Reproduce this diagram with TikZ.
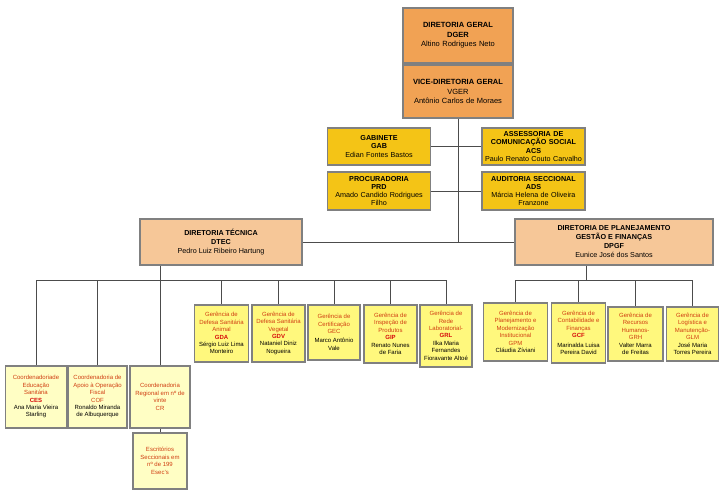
\documentclass[tikz,border=0pt]{standalone}
\usepackage{fontspec}
\setmainfont{Liberation Sans}
\usetikzlibrary{positioning}
\definecolor{dgorange}{RGB}{241,162,84}
\definecolor{staffgold}{RGB}{244,196,22}
\definecolor{dirsalmon}{RGB}{246,199,152}
\definecolor{geryellow}{RGB}{255,248,125}
\definecolor{coordyellow}{RGB}{255,254,196}
\definecolor{boxedge}{RGB}{128,128,128}
\definecolor{gertext}{RGB}{208,62,18}
\definecolor{abbrred}{RGB}{215,10,10}

\begin{document}
\begin{tikzpicture}[x=1pt, y=-1pt,
  unit/.style={draw=boxedge, line width=1.5pt, inner sep=1pt, align=center},
  topbox/.style={unit, fill=dgorange, minimum width=110pt, text width=106pt, font=\fontsize{7.5}{9.5}\selectfont},
  staffbox/.style={unit, fill=staffgold, minimum width=103pt, text width=101pt, font=\fontsize{7.2}{8.1}\selectfont},
  dirbox/.style={unit, fill=dirsalmon, minimum height=46pt, font=\fontsize{7.2}{9}\selectfont},
  gerbox/.style={unit, fill=geryellow, anchor=north, text=gertext, font=\fontsize{6}{7.4}\selectfont},
  coordbox/.style={unit, fill=coordyellow, anchor=north, text=gertext, font=\fontsize{6}{7.4}\selectfont},
  link/.style={draw=black!70, line width=0.8pt}]
\useasboundingbox (0,0) rectangle (720,498);

% direcao geral
\node[topbox, minimum height=55pt] (dger) at (458,35.5) {\textbf{DIRETORIA GERAL}\\\textbf{DGER}\\Altino Rodrigues Neto};
\node[topbox, minimum height=53pt] (vger) at (458,91.5) {\textbf{VICE-DIRETORIA GERAL}\\VGER\\Antônio Carlos de Moraes};

% assessorias
\node[staffbox, minimum height=37pt] (gab) at (379,146.5) {\textbf{GABINETE}\\\textbf{GAB}\\Edian Fontes Bastos};
\node[staffbox, minimum height=37pt] (ascom) at (533.5,146.5) {\textbf{ASSESSORIA DE}\\\textbf{COMUNICAÇÃO SOCIAL}\\\textbf{ACS}\\Paulo Renato Couto Carvalho};
\node[staffbox, minimum height=38pt] (prd) at (379,191) {\textbf{PROCURADORIA}\\\textbf{PRD}\\Amado Candido Rodrigues\\Filho};
\node[staffbox, minimum height=38pt] (ads) at (533.5,191) {\textbf{AUDITORIA SECCIONAL}\\\textbf{ADS}\\Márcia Helena de Oliveira\\Franzone};

% diretorias
\node[dirbox, minimum width=162pt] (dtec) at (221,242) {\textbf{DIRETORIA TÉCNICA}\\\textbf{DTEC}\\Pedro Luiz Ribeiro Hartung};
\node[dirbox, minimum width=198pt] (dpgf) at (614,242) {\textbf{DIRETORIA DE PLANEJAMENTO}\\\textbf{GESTÃO E FINANÇAS}\\\textbf{DPGF}\\Eunice José dos Santos};

% gerencias DTEC
\node[gerbox, minimum width=54pt, minimum height=57pt] (gda) at (221.5,304) {Gerência de\\Defesa Sanitária\\Animal\\\textcolor{abbrred}{\textbf{GDA}}\\\textcolor{black}{Sérgio Luiz Lima}\\\textcolor{black}{Monteiro}};
\node[gerbox, minimum width=53pt, minimum height=57pt] (gdv) at (278.5,304) {Gerência de\\Defesa Sanitária\\Vegetal\\\textcolor{abbrred}{\textbf{GDV}}\\\textcolor{black}{Nataniel Diniz}\\\textcolor{black}{Nogueira}};
\node[gerbox, minimum width=52pt, minimum height=55pt] (gec) at (334,304) {Gerência de\\Certificação\\GEC\\[2pt]\textcolor{black}{Marco Antônio}\\\textcolor{black}{Vale}};
\node[gerbox, minimum width=53pt, minimum height=58pt] (gip) at (390.5,304) {Gerência de\\Inspeção de\\Produtos\\\textcolor{abbrred}{\textbf{GIP}}\\\textcolor{black}{Renato Nunes}\\\textcolor{black}{de Faria}};
\node[gerbox, minimum width=52pt, minimum height=62pt] (grl) at (446,304) {Gerência de\\Rede\\Laboratorial-\\\textcolor{abbrred}{\textbf{GRL}}\\\textcolor{black}{Ilka Maria}\\\textcolor{black}{Fernandes}\\\textcolor{black}{Fioravante Altoé}};

% gerencias DPGF
\node[gerbox, minimum width=64pt, minimum height=58pt] (gpm) at (515.5,302) {Gerência de\\Planejamento e\\Modernização\\Institucional\\GPM\\\textcolor{black}{Cláudia Zíviani}};
\node[gerbox, minimum width=54pt, minimum height=60pt] (gcf) at (578.5,302) {Gerência de\\Contabilidade e\\Finanças\\\textcolor{abbrred}{\textbf{GCF}}\\[2pt]\textcolor{black}{Marinalda Luisa}\\\textcolor{black}{Pereira David}};
\node[gerbox, minimum width=55pt, minimum height=54pt] (grh) at (635.5,306) {Gerência de\\Recursos\\Humanos-\\GRH\\\textcolor{black}{Valter Marra}\\\textcolor{black}{de Freitas}};
\node[gerbox, minimum width=52pt, minimum height=54pt] (glm) at (692.5,306) {Gerência de\\Logística e\\Manutenção-\\GLM\\\textcolor{black}{José Maria}\\\textcolor{black}{Torres Pereira}};

% coordenadorias
\node[coordbox, minimum width=61pt, minimum height=62pt] (ces) at (36,365) {Coordenadoriade\\Educação\\Sanitária\\\textcolor{abbrred}{\textbf{CES}}\\\textcolor{black}{Ana Maria Vieira}\\\textcolor{black}{Starling}};
\node[coordbox, minimum width=59pt, minimum height=62pt] (cof) at (97.5,365) {Coordenadoria de\\Apoio à Operação\\Fiscal\\COF\\\textcolor{black}{Ronaldo Miranda}\\\textcolor{black}{de Albuquerque}};
\node[coordbox, minimum width=60pt, minimum height=62pt] (cr) at (160,365) {\\[-3pt]Coordenadoria\\Regional em nº de\\vinte\\CR};
\node[coordbox, minimum width=54pt, minimum height=56pt] (esec) at (160,432) {Escritórios\\Seccionais em\\nº de 199\\Esec's};

% ligacoes
\coordinate (busy) at (0,280);
\draw[link] (vger.south) -- (vger.south |- dtec.east);
\draw[link] (gab.east) -- (ascom.west);
\draw[link] (prd.east) -- (ads.west);
\draw[link] (dtec.east) -- (dpgf.west);
\draw[link] (dtec.south -| cr.north) -- (cr.north);
\draw[link] (cr.south) -- (esec.north);
\draw[link] (ces.north |- busy) -- (grl.north |- busy);
\foreach \n in {ces,cof,gda,gdv,gec,gip,grl,gpm,gcf,grh,glm}
  \draw[link] (\n.north) -- (\n.north |- busy);
\draw[link] ([xshift=-28pt]dpgf.south) -- ([xshift=-28pt]dpgf.south |- busy);
\draw[link] (gpm.north |- busy) -- (glm.north |- busy);
\end{tikzpicture}
\end{document}
